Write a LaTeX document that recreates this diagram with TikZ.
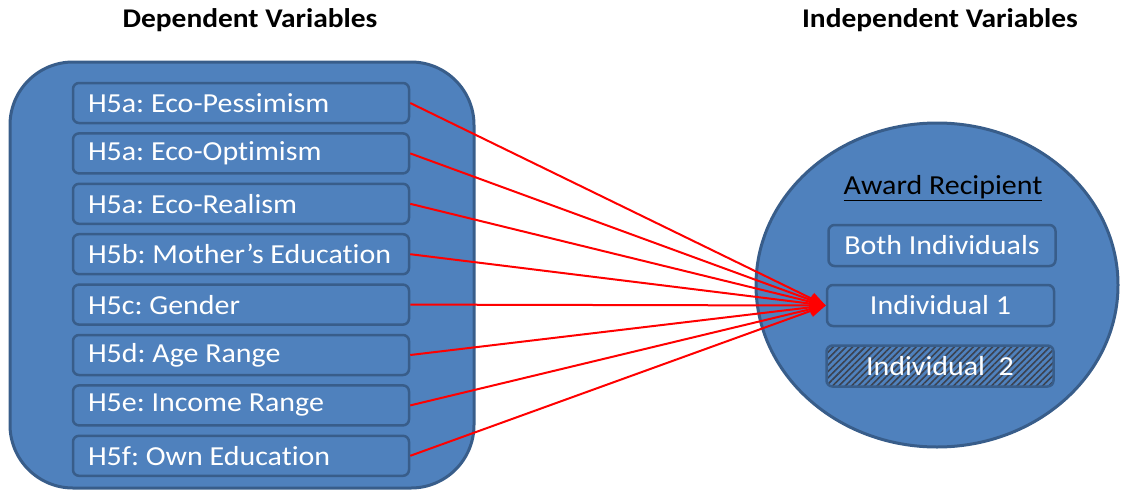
\documentclass[tikz,border=0pt]{standalone}
\usepackage{fontspec}
\setmainfont{Carlito}[FakeStretch=1.09, Ligatures=NoCommon]
\usetikzlibrary{arrows.meta,patterns.meta}
\definecolor{boxblue}{HTML}{4F81BD}
\definecolor{boxedge}{HTML}{385D8A}
\definecolor{hatch}{HTML}{3B4250}
\frenchspacing

\begin{document}
\begin{tikzpicture}[x=1pt, y=-1pt,
  lbox/.style={draw=boxedge, line width=2.5pt, fill=boxblue, rounded corners=6pt, text=white,
    font=\fontsize{27.5}{30}\selectfont, inner xsep=15pt, minimum height=40pt},
  rbox/.style={draw=boxedge, line width=2.5pt, rounded corners=6pt, text=white,
    font=\fontsize{27.5}{30}\selectfont, minimum width=227pt, minimum height=41pt},
  arr/.style={red, line width=2pt, -{Triangle[length=16pt,width=12pt]}}]
\useasboundingbox (0,0) rectangle (1125,493);
\node[font=\bfseries\fontsize{27}{30}\selectfont] (dep) at (250,20) {Dependent Variables};
\node[font=\bfseries\fontsize{27}{30}\selectfont] (indep) at (940,20) {Independent Variables};
% containers
\draw[draw=boxedge, line width=3pt, fill=boxblue, rounded corners=63pt] (10,62) rectangle (474,488);
\draw[draw=boxedge, line width=3pt, fill=boxblue] (937,285) ellipse [x radius=181pt, y radius=162pt];
% dependent variables
\foreach \lbl [count=\i] in {H5a: Eco-Pessimism, H5a: Eco-Optimism, H5a: Eco-Realism,
    H5b: Mother’s Education, H5c: Gender, H5d: Age Range, H5e: Income Range, H5f: Own Education}
  \node[lbox] (d\i) at (241,{103+50.4*(\i-1)}) {\makebox[306pt][l]{\lbl}};
% independent variables
\node[font=\fontsize{27.5}{30}\selectfont] (awd) at (943,188) {\underline{Award Recipient}};
\node[rbox, fill=boxblue] (both) at (942,245.5) {Both Individuals};
\node[rbox, fill=boxblue] (ind1) at (940.5,305.5) {Individual 1};
\node[rbox, preaction={fill=boxblue}, pattern={Lines[angle=45,distance=4.5pt,line width=1.6pt]},
  pattern color=hatch] (ind2) at (940,366) {Individual\ \ 2};
\foreach \i in {1,...,8}
  \draw[arr] (d\i.east) -- (ind1.west);
\end{tikzpicture}
\end{document}
